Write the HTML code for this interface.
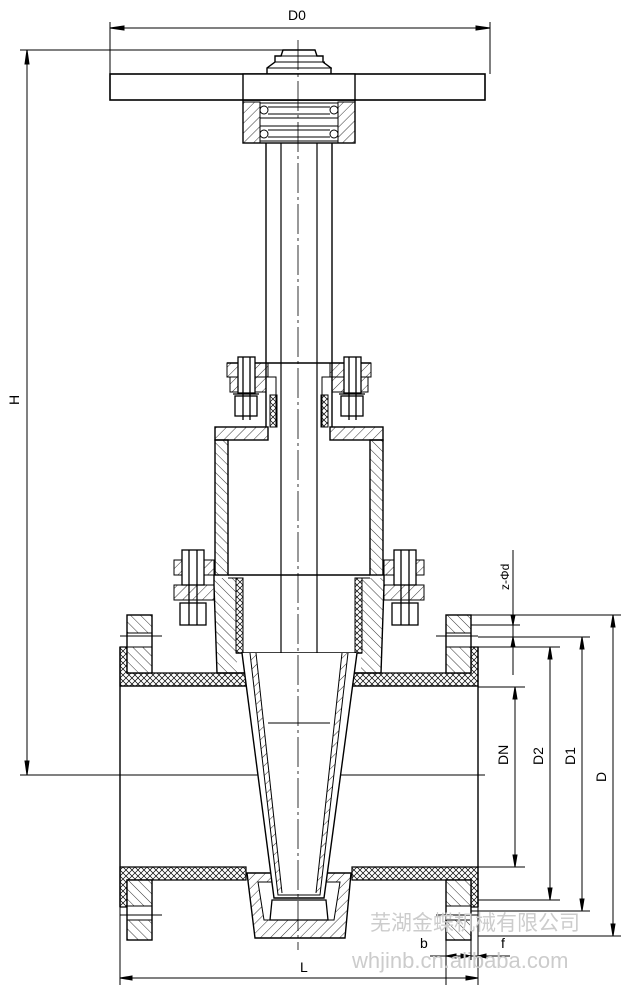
<!DOCTYPE html>
<html><head><meta charset="utf-8"><style>body{margin:0;background:#fff}svg{display:block}</style></head><body>
<svg width="621" height="988" viewBox="0 0 621 988" xmlns="http://www.w3.org/2000/svg" font-family="Liberation Sans, Arial, sans-serif">
<defs>
<pattern id="h" width="7" height="7" patternUnits="userSpaceOnUse" patternTransform="rotate(45)"><line x1="0" y1="0" x2="0" y2="7" stroke="#000" stroke-width="0.8"/></pattern>
<pattern id="h2" width="7" height="7" patternUnits="userSpaceOnUse" patternTransform="rotate(-45)"><line x1="0" y1="0" x2="0" y2="7" stroke="#000" stroke-width="0.8"/></pattern>
<pattern id="x" width="6" height="6" patternUnits="userSpaceOnUse"><path d="M0 0L6 6M6 0L0 6" stroke="#000" stroke-width="0.7"/></pattern>
</defs>
<g fill="none" stroke="#000" stroke-width="1">
<!-- D0 dimension -->
<line x1="110" y1="28" x2="490" y2="28"/>
<line x1="110" y1="22" x2="110" y2="74"/><line x1="490" y1="22" x2="490" y2="74"/>
<path d="M110 28l14-2v4z M490 28l-14-2v4z" fill="#000"/>
<!-- H dimension -->
<line x1="20" y1="50" x2="300" y2="50"/>
<line x1="20" y1="775" x2="485" y2="775"/>
<line x1="27" y1="50" x2="27" y2="775"/>
<path d="M27 50l-2 14h4z M27 775l-2-14h4z" fill="#000"/>
<!-- handwheel -->
<rect x="110" y="74" width="375" height="26" stroke-width="1.6"/>
<rect x="243" y="74" width="112" height="26" fill="#fff" stroke-width="1.4"/>
<path d="M267 74v-6l8-6v-6h6l2-6h32l2 6h6v6l8 6v6" stroke-width="1.4"/>
<line x1="267" y1="68" x2="332" y2="68"/><line x1="275" y1="62" x2="325" y2="62"/><line x1="281" y1="56" x2="319" y2="56"/>
<!-- bearing housing -->
<rect x="243" y="100" width="112" height="43" stroke-width="1.4"/>
<rect x="243" y="102" width="17" height="41" fill="url(#h)"/>
<rect x="338" y="102" width="17" height="41" fill="url(#h)"/>
<rect x="260" y="103" width="78" height="15"/><rect x="260" y="126" width="78" height="15"/>
<line x1="268" y1="107" x2="330" y2="107"/><line x1="268" y1="114" x2="330" y2="114"/>
<line x1="268" y1="130" x2="330" y2="130"/><line x1="268" y1="137" x2="330" y2="137"/>
<circle cx="264" cy="110" r="4"/><circle cx="334" cy="110" r="4"/>
<circle cx="264" cy="134" r="4"/><circle cx="334" cy="134" r="4"/>
<!-- stem tubes -->
<line x1="266" y1="143" x2="266" y2="427" stroke-width="1.4"/>
<line x1="332" y1="143" x2="332" y2="427" stroke-width="1.4"/>
<line x1="281" y1="143" x2="281" y2="653" stroke-width="1.2"/>
<line x1="317" y1="143" x2="317" y2="653" stroke-width="1.2"/>
<!-- yoke flange -->
<rect x="227" y="363" width="41" height="14" fill="url(#h)"/>
<rect x="330" y="363" width="41" height="14" fill="url(#h)"/>
<line x1="227" y1="363" x2="371" y2="363" stroke-width="1.4"/>
<rect x="230" y="377" width="36" height="15" fill="url(#h)"/>
<rect x="332" y="377" width="36" height="15" fill="url(#h)"/>
<path d="M266 377h10v50" /><path d="M332 377h-10v50"/>
<rect x="270" y="395" width="7" height="32" fill="url(#x)"/>
<rect x="321" y="395" width="7" height="32" fill="url(#x)"/>
<!-- upper bolts -->
<g stroke-width="1.3">
<rect x="238" y="357" width="17" height="36" fill="#fff"/><rect x="235" y="396" width="22" height="20" fill="#fff"/>
<line x1="243" y1="357" x2="243" y2="420"/><line x1="250" y1="357" x2="250" y2="420"/>
<line x1="233" y1="394" x2="259" y2="394"/>
<rect x="344" y="357" width="17" height="36" fill="#fff"/><rect x="341" y="396" width="22" height="20" fill="#fff"/>
<line x1="349" y1="357" x2="349" y2="420"/><line x1="356" y1="357" x2="356" y2="420"/>
<line x1="339" y1="394" x2="365" y2="394"/>
</g>
<!-- bonnet -->
<rect x="215" y="427" width="53" height="13" fill="url(#h)" stroke-width="1.4"/>
<rect x="330" y="427" width="53" height="13" fill="url(#h)" stroke-width="1.4"/>
<rect x="215" y="440" width="13" height="135" fill="url(#h2)" stroke-width="1.4"/>
<rect x="370" y="440" width="13" height="135" fill="url(#h2)" stroke-width="1.4"/>
<line x1="228" y1="575" x2="370" y2="575" stroke-width="1.4"/>
<!-- bonnet lower flange & bolts -->
<rect x="174" y="560" width="40" height="15" fill="url(#h)"/>
<rect x="384" y="560" width="40" height="15" fill="url(#h)"/>
<rect x="174" y="585" width="40" height="15" fill="url(#h)"/>
<rect x="384" y="585" width="40" height="15" fill="url(#h)"/>
<g stroke-width="1.3">
<rect x="182" y="550" width="22" height="35" fill="#fff"/><rect x="180" y="603" width="26" height="22" fill="#fff"/>
<line x1="189" y1="550" x2="189" y2="625"/><line x1="197" y1="550" x2="197" y2="625"/>
<rect x="394" y="550" width="22" height="35" fill="#fff"/><rect x="392" y="603" width="26" height="22" fill="#fff"/>
<line x1="401" y1="550" x2="401" y2="625"/><line x1="409" y1="550" x2="409" y2="625"/>
</g>
<!-- body neck -->
<path d="M214 585l3 88h29" stroke-width="1.4"/>
<path d="M384 585l-3 88h-29" stroke-width="1.4"/>
<path d="M214 585l3 88h20l-1-95h-22z" fill="url(#h2)" stroke="none"/>
<path d="M384 585l-3 88h-20l1-95h22z" fill="url(#h2)" stroke="none"/>
<line x1="214" y1="575" x2="214" y2="585" stroke-width="1.4"/>
<line x1="384" y1="575" x2="384" y2="585" stroke-width="1.4"/>
<path d="M228 578h8v75" /><path d="M370 578h-8v75"/>
<rect x="236" y="578" width="7" height="75" fill="url(#x)"/>
<rect x="355" y="578" width="7" height="75" fill="url(#x)"/>
<line x1="236" y1="653" x2="362" y2="653" stroke-width="1.4"/>
<!-- pipe ends -->
<line x1="120" y1="647" x2="120" y2="907" stroke-width="1.4"/>
<line x1="478" y1="647" x2="478" y2="907" stroke-width="1.4"/>
<!-- top wall -->
<path d="M120 647h7v26h119v13h-126z" fill="url(#x)" stroke-width="1.2"/>
<path d="M478 647h-7v26h-119v13h126z" fill="url(#x)" stroke-width="1.2"/>
<line x1="120" y1="686" x2="478" y2="686" stroke-width="1.2"/>
<!-- bottom wall -->
<path d="M120 867h126v13h-119v27h-7z" fill="url(#x)" stroke-width="1.2"/>
<path d="M478 867h-126v13h119v27h7z" fill="url(#x)" stroke-width="1.2"/>
<!-- flanges -->
<g stroke-width="1.4">
<rect x="127" y="615" width="25" height="58" fill="#fff"/>
<rect x="446" y="615" width="25" height="58" fill="#fff"/>
<rect x="127" y="880" width="25" height="60" fill="#fff"/>
<rect x="446" y="880" width="25" height="60" fill="#fff"/>
</g>
<rect x="127" y="615" width="25" height="18" fill="url(#h2)"/>
<rect x="127" y="647" width="25" height="26" fill="url(#h2)"/>
<rect x="446" y="615" width="25" height="18" fill="url(#h2)"/>
<rect x="446" y="647" width="25" height="26" fill="url(#h2)"/>
<rect x="127" y="880" width="25" height="26" fill="url(#h2)"/>
<rect x="127" y="920" width="25" height="20" fill="url(#h2)"/>
<rect x="446" y="880" width="25" height="26" fill="url(#h2)"/>
<rect x="446" y="920" width="25" height="20" fill="url(#h2)"/>
<line x1="120" y1="636" x2="162" y2="636"/><line x1="436" y1="636" x2="478" y2="636"/>
<line x1="120" y1="915" x2="162" y2="915"/><line x1="436" y1="915" x2="478" y2="915"/>
<!-- bottom pocket -->
<path d="M247 873l8 65h90l6-65z" fill="url(#h)" stroke-width="1.4"/>
<path d="M258 882l6 38h70l6-38z" fill="#fff"/>
<!-- wedge -->
<path d="M242 653l32 245h50l33-245" stroke-width="1.4" fill="#fff"/>
<path d="M250 653l28 242h42l28-242" />
<path d="M256 653l26 240" /><path d="M342 653l-26 240"/>
<path d="M250 653h6l26 240h-4z" fill="url(#h)" stroke="none"/>
<path d="M348 653h-6l-26 240h4z" fill="url(#h)" stroke="none"/>
<line x1="268" y1="723" x2="330" y2="723"/>
<path d="M272 900h54l2 20h-58z" fill="#fff" stroke-width="1.3"/>
<line x1="298" y1="40" x2="298" y2="950" stroke-dasharray="30 4 3 4" stroke-width="0.8"/>
<!-- right dims -->
<line x1="471" y1="615" x2="625" y2="615"/><line x1="471" y1="625" x2="520" y2="625"/>
<line x1="478" y1="637" x2="590" y2="637"/><line x1="478" y1="647" x2="560" y2="647"/>
<line x1="478" y1="687" x2="525" y2="687"/><line x1="478" y1="867" x2="525" y2="867"/>
<line x1="478" y1="900" x2="560" y2="900"/><line x1="471" y1="911" x2="590" y2="911"/>
<line x1="478" y1="936" x2="625" y2="936"/>
<line x1="513" y1="550" x2="513" y2="675"/>
<line x1="515" y1="687" x2="515" y2="867"/>
<line x1="550" y1="647" x2="550" y2="900"/>
<line x1="582" y1="637" x2="582" y2="911"/>
<line x1="613" y1="615" x2="613" y2="936"/>
<g fill="#000">
<path d="M515 687l-2 12h4z M515 867l-2-12h4z M550 647l-2 12h4z M550 900l-2-12h4z M582 637l-2 12h4z M582 911l-2-12h4z M613 615l-2 12h4z M613 936l-2-12h4z M513 625l-2-10h4z M513 637l-2 10h4z"/>
</g>
<!-- b, f, L -->
<line x1="446" y1="940" x2="446" y2="985"/><line x1="471" y1="940" x2="471" y2="960"/><line x1="478" y1="907" x2="478" y2="985"/>
<line x1="120" y1="907" x2="120" y2="985"/>
<line x1="430" y1="956" x2="510" y2="956"/>
<line x1="120" y1="978" x2="478" y2="978"/>
<path d="M120 978l12-2v4z M478 978l-12-2v4z M446 956l10-2v4z M471 956l-10-2v4z M478 956l8-2v4z" fill="#000"/>
</g>
<g fill="#000" font-size="14">
<text x="288" y="20">D0</text>
<text x="300" y="972">L</text>
<text x="420" y="948">b</text>
<text x="501" y="948">f</text>
<text transform="translate(19,405) rotate(-90)">H</text>
<text transform="translate(508,765) rotate(-90)">DN</text>
<text transform="translate(543,765) rotate(-90)">D2</text>
<text transform="translate(575,765) rotate(-90)">D1</text>
<text transform="translate(606,782) rotate(-90)">D</text>
<text transform="translate(509,590) rotate(-90)" font-size="12">z-Φd</text>
</g>
<g fill="#ccc" font-size="21">
<text x="370" y="930" font-family="Noto Sans CJK SC, sans-serif">芜湖金蝶机械有限公司</text>
<text x="352" y="968" font-size="22">whjinb.cn.alibaba.com</text>
</g>
</svg>
</body></html>
